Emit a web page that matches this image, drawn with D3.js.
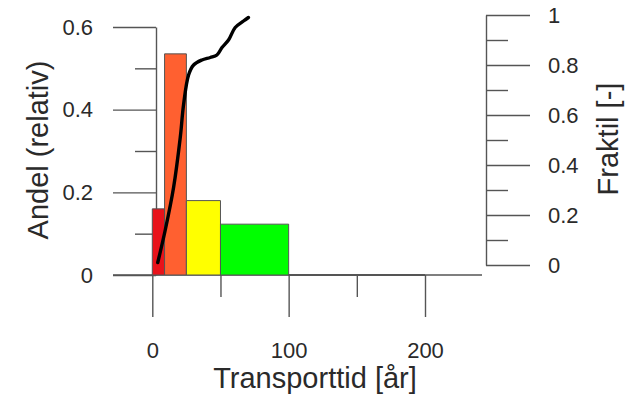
<!DOCTYPE html>
<html>
<head>
<meta charset="utf-8">
<script src="https://cdn.jsdelivr.net/npm/d3@7"></script>
<style>
  body { margin: 0; background: #fff; }
  svg text { font-family: "Liberation Sans", Arial, sans-serif; fill: #2a2a2a; }
  .axis path, .axis line { stroke: #555; stroke-width: 1.4; }
</style>
</head>
<body>
<div id="chart"></div>
<script>
// histogram bins: [from, to] in years and relative share
const binEdges = [[0, 9], [9, 25], [25, 50], [50, 100], [100, 200]];
const binShare = [0.16, 0.535, 0.18, 0.123, 0];
const binColor = ['#e8121a', '#ff6030', '#ffff00', '#00ff00', '#ffffff'];

// cumulative curve (fraktil)
const cdfX = [4, 9.5, 15.6, 20.5, 22.9, 26.6, 30.3, 36.4, 42.5, 47.4, 51.1, 55.9, 60.8, 66.9, 70.5];
const cdfY = [0.01, 0.14, 0.31, 0.51, 0.64, 0.76, 0.80, 0.82, 0.83, 0.84, 0.87, 0.90, 0.95, 0.976, 0.99];

const xMajor = [0, 100, 200], xMinor = [50, 150];
const yLMajor = [0, 0.2, 0.4, 0.6], yLMinor = [0.1, 0.3, 0.5];
const yRMajor = [0, 0.2, 0.4, 0.6, 0.8, 1], yRMinor = [0.1, 0.3, 0.5, 0.7, 0.9];

const W = 628, H = 400;
const svg = d3.select('#chart').append('svg').attr('width', W).attr('height', H);

const x = d3.scaleLinear().domain([0, 200]).range([152.3, 425]);
const yL = d3.scaleLinear().domain([0, 0.6]).range([275, 27]);
const yR = d3.scaleLinear().domain([0, 1]).range([265, 15]);

const leftX = 156, rightX = 486, baseY = yL(0);
const fmt = d => d === 0 || d === 1 ? String(d) : d3.format('.1f')(d);

// x axis line spanning the whole frame
svg.append('line').attr('class', 'axisline')
  .attr('x1', leftX - 43).attr('x2', rightX - 4).attr('y1', baseY).attr('y2', baseY)
  .attr('stroke', '#555').attr('stroke-width', 1.4);

// x axis ticks
let gx = svg.append('g').attr('class', 'axis').attr('transform', 'translate(0,' + baseY + ')')
  .call(d3.axisBottom(x).tickValues(xMajor).tickSize(42).tickPadding(25).tickFormat(d3.format('d')));
gx.select('.domain').remove();
gx.selectAll('text').style('font-size', '22px');
let gx2 = svg.append('g').attr('class', 'axis').attr('transform', 'translate(0,' + baseY + ')')
  .call(d3.axisBottom(x).tickValues(xMinor).tickSize(22).tickFormat(''));
gx2.select('.domain').remove();

// left axis
let gl = svg.append('g').attr('class', 'axis').attr('transform', 'translate(' + leftX + ',0)')
  .call(d3.axisLeft(yL).tickValues(yLMajor).tickSize(43).tickSizeOuter(0).tickPadding(20).tickFormat(fmt));
gl.selectAll('text').style('font-size', '22px');
svg.append('g').attr('class', 'axis').attr('transform', 'translate(' + leftX + ',0)')
  .call(d3.axisLeft(yL).tickValues(yLMinor).tickSize(21).tickFormat(''))
  .select('.domain').remove();

// right axis
let gr = svg.append('g').attr('class', 'axis').attr('transform', 'translate(' + rightX + ',0)')
  .call(d3.axisRight(yR).tickValues(yRMajor).tickSize(44).tickSizeOuter(0).tickPadding(18).tickFormat(fmt));
gr.selectAll('text').style('font-size', '22px');
svg.append('g').attr('class', 'axis').attr('transform', 'translate(' + rightX + ',0)')
  .call(d3.axisRight(yR).tickValues(yRMinor).tickSize(22).tickFormat(''))
  .select('.domain').remove();

// bars (as paths so an empty bin still shows as a line)
svg.append('g').selectAll('path').data(binEdges).enter().append('path')
  .attr('d', (d, i) => {
    const p = d3.path();
    p.moveTo(x(d[0]), baseY);
    p.lineTo(x(d[0]), yL(binShare[i]));
    p.lineTo(x(d[1]), yL(binShare[i]));
    p.lineTo(x(d[1]), baseY);
    p.closePath();
    return p.toString();
  })
  .attr('fill', (d, i) => binColor[i])
  .attr('stroke', '#555').attr('stroke-width', (d, i) => binShare[i] === 0 ? 2.2 : 1);

// cumulative curve on right scale
svg.append('path')
  .attr('d', d3.line().curve(d3.curveCatmullRom)(cdfX.map((v, i) => [x(v), yR(cdfY[i])])))
  .attr('fill', 'none').attr('stroke', '#000').attr('stroke-width', 3.4)
  .attr('stroke-linecap', 'round').attr('stroke-linejoin', 'round');

// titles
svg.append('text').attr('x', 315).attr('y', 388).attr('text-anchor', 'middle')
  .style('font-size', '29px').text('Transporttid [år]');
svg.append('text').attr('transform', 'translate(48,150) rotate(-90)').attr('text-anchor', 'middle')
  .style('font-size', '29px').text('Andel (relativ)');
svg.append('text').attr('transform', 'translate(618,139) rotate(-90)').attr('text-anchor', 'middle')
  .style('font-size', '29px').text('Fraktil [-]');
</script>
</body>
</html>
